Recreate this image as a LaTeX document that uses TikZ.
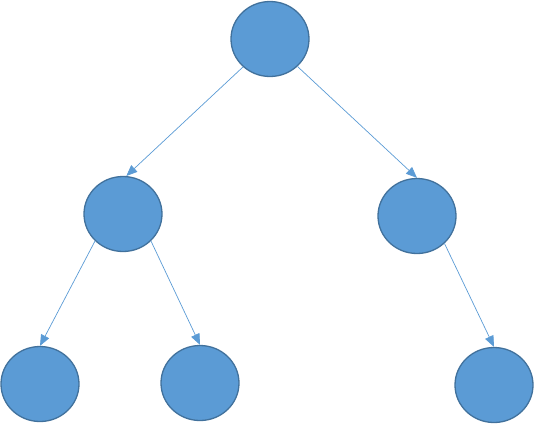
\documentclass[tikz,border=0pt]{standalone}
\usetikzlibrary{shapes.geometric,arrows.meta}
\definecolor{nodefill}{HTML}{5B9BD5}
\definecolor{nodeborder}{HTML}{41719C}
\tikzset{
  treenode/.style={ellipse, draw=nodeborder, fill=nodefill, line width=1.3pt,
    minimum width=78pt, minimum height=75pt, inner sep=0pt},
  treeedge/.style={draw=nodefill, line width=0.7pt,
    -{Triangle[length=11pt,width=9pt]}}
}
\begin{document}
\begin{tikzpicture}[x=1pt,y=-1pt]
\useasboundingbox (0,0) rectangle (535,424);
\node[treenode] (root) at (270,39) {};
\node[treenode] (l) at (123,214) {};
\node[treenode] (r) at (417,216) {};
\node[treenode] (ll) at (40,384) {};
\node[treenode] (lr) at (200,383) {};
\node[treenode] (rr) at (494,385) {};
\draw[treeedge] (root.226) -- (l.85);
\draw[treeedge] (root.315) -- (r.north);
\draw[treeedge] (l.224) -- (ll.north);
\draw[treeedge] (l.316) -- (lr.north);
\draw[treeedge] (r.315) -- (rr.north);
\end{tikzpicture}
\end{document}
